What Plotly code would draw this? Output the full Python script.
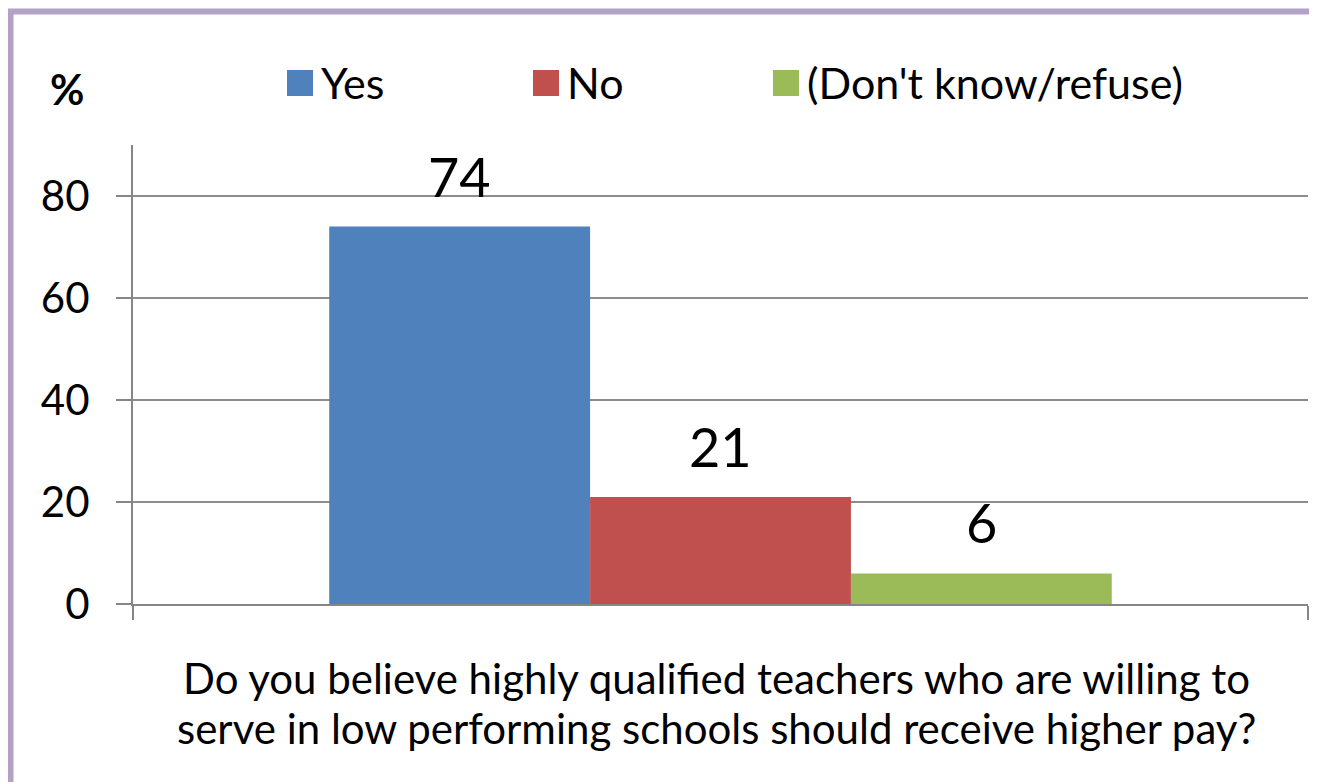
import plotly.graph_objects as go

# survey answers
answers = ["Yes", "No", "(Don't know/refuse)"]
shares = [74, 21, 6]
colors = ["#4F81BD", "#C0504D", "#9BBB59"]
question_lines = ["Do you believe highly qualified teachers who are willing to",
                  "serve in low performing schools should receive higher pay?"]
y_ticks = [0, 20, 40, 60, 80]

# the page body has an 8px margin, so the figure is drawn 8px smaller
OFF = 8
W, H = 1317 - OFF, 782 - OFF
L, R, T, B = 133 - OFF, 9, 145 - OFF, 178
FONT = "Lato"
AXIS_GREY = "#868686"


def px_x(px):
    # screen pixel -> paper x
    return (px - OFF - L) / (W - L - R)


def px_y(py):
    # screen pixel -> paper y
    return (H - B - (py - OFF)) / (H - T - B)


fig = go.Figure()
for name, val, col in zip(answers, shares, colors):
    fig.add_trace(go.Bar(x=[0], y=[val], name=name, marker=dict(color=col, line=dict(width=0)),
                         showlegend=False))

# value labels above each bar (group of 3 bars centred on x=0)
bargap = 0.334
bar_w = (1 - bargap) / len(shares)
for i, val in enumerate(shares):
    xc = -(1 - bargap) / 2 + (i + 0.5) * bar_w
    fig.add_annotation(x=xc, y=val, xref="x", yref="y", text=str(val), showarrow=False,
                       yanchor="bottom", yshift=16, font=dict(family=FONT, size=54, color="black"))

# hand-made legend so the swatches are as big as in the original
legend_x = [287, 533, 773]
for name, col, lx in zip(answers, colors, legend_x):
    fig.add_shape(type="rect", xref="paper", yref="paper",
                  x0=px_x(lx), x1=px_x(lx + 26), y0=px_y(96), y1=px_y(70),
                  fillcolor=col, line=dict(width=0))
    fig.add_annotation(xref="paper", yref="paper", x=px_x(lx + 32), y=px_y(83), text=name,
                       showarrow=False, xanchor="left", yanchor="middle",
                       font=dict(family=FONT, size=43, color="black"))

# "%" unit label
fig.add_annotation(xref="paper", yref="paper", x=px_x(67), y=px_y(89), text="<b>%</b>",
                   showarrow=False, xanchor="center", yanchor="middle",
                   font=dict(family=FONT, size=42, color="black"))

# question under the axis
for line, cy in zip(question_lines, [678, 728]):
    fig.add_annotation(xref="paper", yref="paper", x=px_x(716), y=px_y(cy), text=line,
                       showarrow=False, xanchor="center", yanchor="middle",
                       font=dict(family=FONT, size=42, color="black"))

# purple frame
fig.add_shape(type="rect", xref="paper", yref="paper", layer="above",
              x0=px_x(10.5), x1=px_x(1340), y0=px_y(820), y1=px_y(11.5),
              line=dict(color="#B3A2C7", width=6), fillcolor="rgba(0,0,0,0)")

fig.update_layout(
    width=W, height=H,
    margin=dict(l=L, r=R, t=T, b=B),
    paper_bgcolor="white", plot_bgcolor="white",
    barmode="group", bargap=bargap, bargroupgap=0,
    showlegend=False,
    font=dict(family=FONT, color="black"),
)
fig.update_xaxes(range=[-0.5, 0.5], tickvals=[-0.5, 0.5], ticktext=["", ""], showgrid=False,
                 zeroline=False, showline=True, linecolor=AXIS_GREY, linewidth=2,
                 ticks="outside", ticklen=14, tickwidth=2, tickcolor=AXIS_GREY)
fig.update_yaxes(range=[0, 90], tickvals=y_ticks, showgrid=True, gridcolor="#8C8C8C", gridwidth=1.5,
                 zeroline=False, showline=True, linecolor=AXIS_GREY, linewidth=2,
                 ticks="outside", ticklen=15, tickwidth=2, tickcolor=AXIS_GREY,
                 ticklabelstandoff=18, tickfont=dict(family=FONT, size=42, color="black"))

fig.write_html("out.html")
